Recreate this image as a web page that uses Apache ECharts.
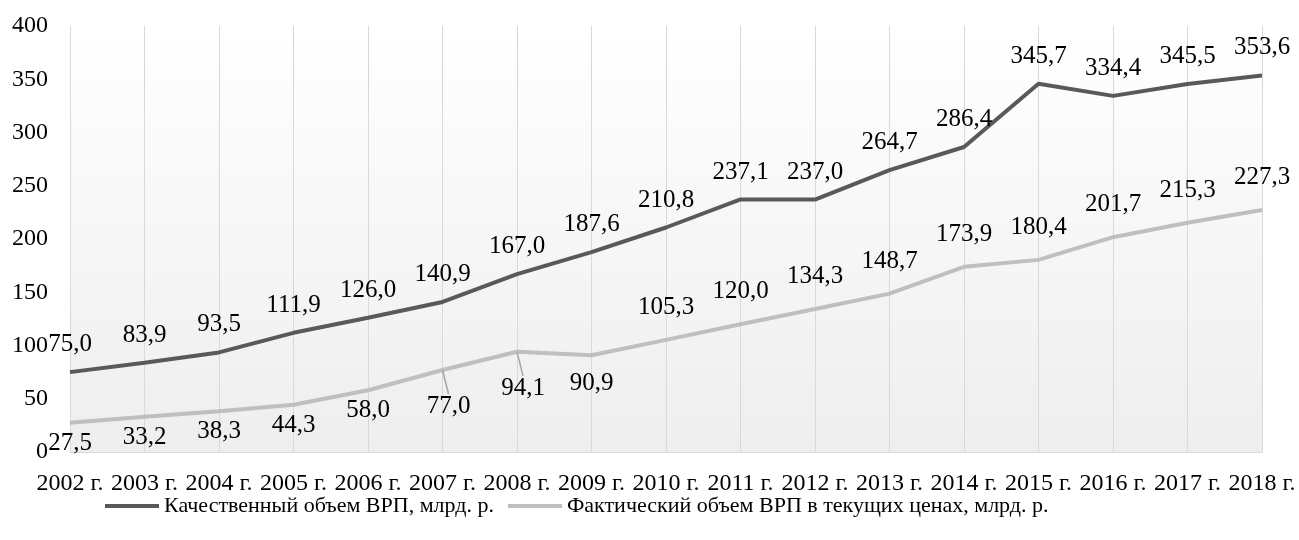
<!DOCTYPE html>
<html>
<head>
<meta charset="utf-8">
<script src="https://cdn.jsdelivr.net/npm/echarts@6/dist/echarts.min.js"></script>
<style>html,body{margin:0;padding:0;background:#fff}#c{width:1299px;height:540px}</style>
</head>
<body>
<div id="c"></div>
<script>
const years = ['2002 г.','2003 г.','2004 г.','2005 г.','2006 г.','2007 г.','2008 г.','2009 г.','2010 г.','2011 г.','2012 г.','2013 г.','2014 г.','2015 г.','2016 г.','2017 г.','2018 г.'];
const qualName = 'Качественный объем ВРП, млрд. р.';
const factName = 'Фактический объем ВРП в текущих ценах, млрд. р.';
const qualVals = [75.0, 83.9, 93.5, 111.9, 126.0, 140.9, 167.0, 187.6, 210.8, 237.1, 237.0, 264.7, 286.4, 345.7, 334.4, 345.5, 353.6];
const factVals = [27.5, 33.2, 38.3, 44.3, 58.0, 77.0, 94.1, 90.9, 105.3, 120.0, 134.3, 148.7, 173.9, 180.4, 201.7, 215.3, 227.3];

const FONT = 'Liberation Serif';
const fmt = v => v.toFixed(1).replace('.', ',');
// light-series labels: below the line for the early years (two with leader lines), above for the later ones
const factData = factVals.map((v, i) => {
  if (i >= 8) return { value: v, label: { position: 'top', distance: 20 } };
  if (i === 5 || i === 6) return { value: v, labelLine: { show: true } };
  return { value: v };
});

const chart = echarts.init(document.getElementById('c'));
chart.setOption({
  animation: false,
  textStyle: { fontFamily: FONT },
  grid: {
    left: 70, right: 37, top: 26, bottom: 88, show: true, borderWidth: 0,
    backgroundColor: new echarts.graphic.LinearGradient(0, 0, 0, 1, [
      { offset: 0, color: '#ffffff' },
      { offset: 1, color: '#eeeeee' }
    ])
  },
  legend: {
    bottom: 18, left: 100, itemWidth: 54, itemHeight: 4, itemGap: 14, icon: 'rect',
    formatter: '{t|{name}}',
    textStyle: {
      fontFamily: FONT, fontSize: 22, color: '#000',
      rich: { t: { fontFamily: FONT, fontSize: 22, color: '#000' } }
    },
    data: [qualName, factName]
  },
  xAxis: {
    type: 'category', data: years, boundaryGap: false,
    axisLine: { lineStyle: { color: '#d9d9d9', width: 1 } },
    axisTick: { show: false },
    splitLine: { show: true, lineStyle: { color: '#d9d9d9', width: 1 } },
    axisLabel: { fontFamily: FONT, fontSize: 24, color: '#000', margin: 20, interval: 0 }
  },
  yAxis: {
    type: 'value', min: 0, max: 400, interval: 50,
    axisLine: { show: false }, axisTick: { show: false },
    splitLine: { show: false },
    axisLabel: { fontFamily: FONT, fontSize: 24, color: '#000', margin: 22 }
  },
  series: [
    {
      name: qualName, type: 'line', data: qualVals, symbol: 'circle', symbolSize: 0.1, showSymbol: true,
      lineStyle: { color: '#595959', width: 4 }, itemStyle: { color: '#595959' },
      label: { show: true, position: 'top', distance: 15, fontFamily: FONT, fontSize: 25, color: '#000', formatter: p => fmt(p.value) }
    },
    {
      name: factName, type: 'line', data: factData, symbol: 'circle', symbolSize: 0.1, showSymbol: true,
      lineStyle: { color: '#bfbfbf', width: 4 }, itemStyle: { color: '#bfbfbf' },
      label: {
        show: true, fontFamily: FONT, fontSize: 25, color: '#000',
        formatter: p => fmt(p.value),
        position: 'bottom', distance: 8
      },
      labelLine: { show: false, lineStyle: { color: '#a6a6a6', width: 1.5 } },
      labelLayout: function (params) {
        const i = params.dataIndex;
        if (i === 5 || i === 6) return { dy: 16, dx: 6 };
        if (i === 7) return { dy: 8 };
        return {};
      }
    }
  ]
});
</script>
</body>
</html>
